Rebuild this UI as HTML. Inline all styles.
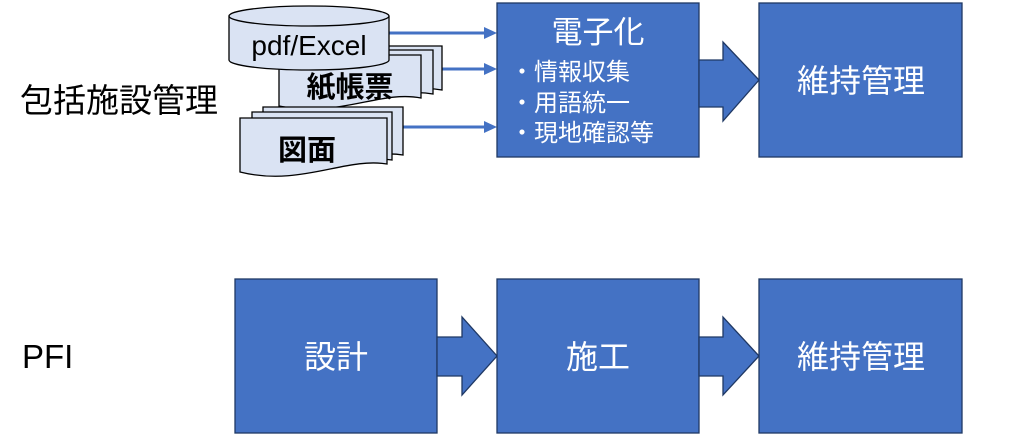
<!DOCTYPE html>
<html><head><meta charset="utf-8"><style>
html,body{margin:0;padding:0;background:#fff;}
svg{display:block;}
text{font-family:"Liberation Sans","Noto Sans CJK JP",sans-serif;}
</style></head><body>
<svg width="1024" height="434" viewBox="0 0 1024 434" xmlns="http://www.w3.org/2000/svg">
<text x="20" y="112" font-size="33" fill="#000">包括施設管理</text>
<text x="22" y="368" font-size="33" fill="#000">PFI</text>

<g stroke="#4472c4" stroke-width="3" fill="#4472c4">
<line x1="388" y1="33" x2="486" y2="33"/><polygon points="484,27 497,33 484,39" stroke="none"/>
<line x1="440" y1="69" x2="486" y2="69"/><polygon points="484,63 497,69 484,75" stroke="none"/>
<line x1="402" y1="127" x2="486" y2="127"/><polygon points="484,121 497,127 484,133" stroke="none"/>
</g>

<g fill="#dae3f3" stroke="#000" stroke-width="1.3">
<path d="M300,46 H442 V90 C400,82 360,112 300,98 Z"/>
<path d="M290,50 H433 V94 C390,86 350,116 290,102 Z"/>
<path d="M279,55 H421 V98 C380,90 340,118 279,106 Z"/>
</g>
<text x="350" y="97" font-size="29" text-anchor="middle" fill="#000" font-weight="bold">紙帳票</text>

<g fill="#dae3f3" stroke="#000" stroke-width="1.3">
<path d="M229,16 V60 A80,10 0 0 0 389,60 V16"/>
<ellipse cx="309" cy="16" rx="80" ry="10"/>
</g>
<text x="309" y="55" font-size="28" text-anchor="middle" fill="#000">pdf/Excel</text>

<g fill="#dae3f3" stroke="#000" stroke-width="1.3">
<path d="M263,107 H403 V155 C360,148 320,178 263,165 Z"/>
<path d="M252,112 H392 V160 C350,153 310,183 252,170 Z"/>
<path d="M240,118 H387 V164 C345,157 300,187 240,172 Z"/>
</g>
<text x="307" y="160" font-size="29" text-anchor="middle" fill="#000" font-weight="bold">図面</text>

<g fill="#4472c4" stroke="#1f3864" stroke-width="1.3">
<rect x="497" y="3" width="202" height="154"/>
<polygon points="699,60 723,60 723,42 759,80 723,121 723,107 699,107"/>
<rect x="759" y="3" width="203" height="154"/>

<rect x="235" y="279" width="202" height="154"/>
<polygon points="437,337 462,337 462,317 497,356 462,395 462,376 437,376"/>
<rect x="497" y="279" width="202" height="154"/>
<polygon points="699,337 723,337 723,317 759,356 723,395 723,376 699,376"/>
<rect x="759" y="279" width="203" height="154"/>
</g>

<g fill="#fff">
<text x="598" y="43" font-size="31" text-anchor="middle">電子化</text>
<text x="510" y="80" font-size="24">・情報収集</text>
<text x="510" y="111" font-size="24">・用語統一</text>
<text x="510" y="141" font-size="24">・現地確認等</text>
<text x="861" y="92" font-size="32" text-anchor="middle">維持管理</text>
<text x="336" y="368" font-size="32" text-anchor="middle">設計</text>
<text x="598" y="368" font-size="32" text-anchor="middle">施工</text>
<text x="861" y="368" font-size="32" text-anchor="middle">維持管理</text>
</g>
</svg>
</body></html>
